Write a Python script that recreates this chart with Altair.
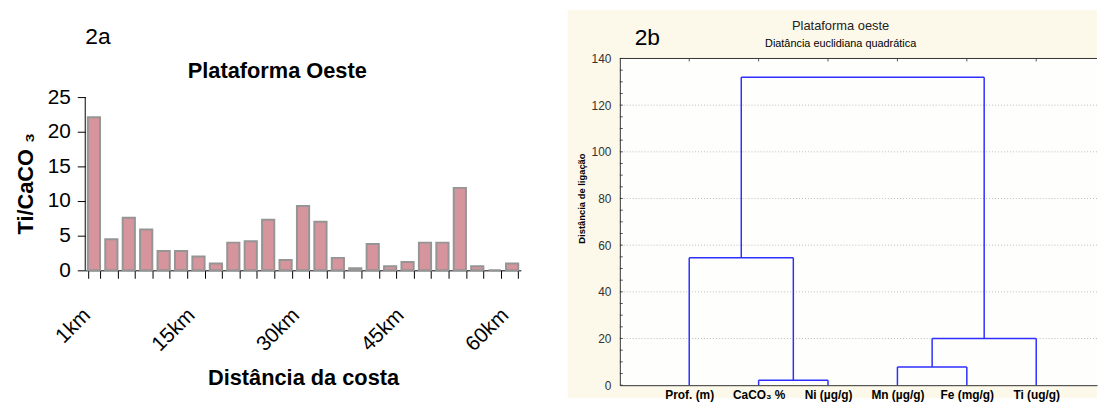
import altair as alt
import pandas as pd

# ---------------- data: panel 2a ----------------
stations = list(range(1, 26))
ti_caco3 = [22.1, 4.5, 7.6, 5.9, 2.8, 2.8, 2.0, 1.0, 4.0, 4.2, 7.3, 1.5, 9.3,
            7.0, 1.8, 0.3, 3.8, 0.6, 1.2, 4.0, 4.0, 11.9, 0.6, 0.0, 1.0]
station_labels = {1: "1km", 7: "15km", 13: "30km", 19: "45km", 25: "60km"}
y_ticks_a = [0, 5, 10, 15, 20, 25]

# ---------------- data: panel 2b (dendrogram) ----------------
leaves = ["Prof. (m)", "CaCO\u2083 %", "Ni (\u00b5g/g)", "Mn (\u00b5g/g)", "Fe (mg/g)", "Ti (ug/g)"]
# merges: (node_a, node_b, linkage distance); leaves are 0..5, new nodes 6..
merge_a = [1, 3, 7, 0, 9]
merge_b = [2, 4, 5, 6, 8]
merge_h = [2.1, 7.8, 20.0, 54.6, 132.0]
y_ticks_b = [0, 20, 40, 60, 80, 100, 120, 140]
y_minor_b = list(range(0, 141, 5))

FONT = "Liberation Sans"
one = pd.DataFrame({"v": [0]})
YT_A = "Ti/CaCO \u2083"
YT_B = "Distância de ligação"

# ---------------- panel 2a ----------------
bars_df = pd.DataFrame({"station": stations, "ratio": ti_caco3})
expr = "''"
for k in sorted(station_labels, reverse=True):
    expr = f"datum.value == {k} ? '{station_labels[k]}' : " + expr

WA = 440
HA = 214           # plot area from the common top line down to the bar baseline
YMAX_A = 25 * HA / 175.0

bg_a = alt.Chart(one).mark_rect(fill="white").encode(
    x=alt.value(-78), x2=alt.value(WA + 20), y=alt.value(0), y2=alt.value(1)
)
bars = alt.Chart(bars_df).mark_bar(fill="#D6959C", stroke="#959595", strokeWidth=2).encode(
    x=alt.X("station:O", title="Distância da costa",
            scale=alt.Scale(paddingInner=0.3, paddingOuter=0.15),
            axis=alt.Axis(labelAngle=-45, labelExpr=expr, labelOverlap=False,
                          tickBand="extent", tickSize=8, tickColor="black",
                          domainColor="black", labelPadding=26, labelOffset=-15,
                          labelFontSize=21, labelFont=FONT, labelColor="black",
                          titleFontSize=22, titleFont=FONT, titleFontWeight="bold",
                          titleColor="black", titlePadding=13)),
    y=alt.Y("ratio:Q", title=YT_A,
            scale=alt.Scale(domain=[0, YMAX_A], nice=False),
            axis=alt.Axis(values=y_ticks_a, grid=False, domain=False, tickSize=8,
                          tickColor="black", labelPadding=7, labelFontSize=21,
                          labelFont=FONT, labelColor="black", titleFontSize=22,
                          titleFont=FONT, titleFontWeight="bold", titleColor="black",
                          titlePadding=10, titleY=126)),
)
y_line_a = alt.Chart(one).mark_rule(color="black", strokeWidth=1).encode(
    x=alt.value(0), y=alt.datum(y_ticks_a[0]), y2=alt.datum(y_ticks_a[-1])
)
title_a = alt.Chart(one).mark_text(text="Plataforma Oeste", align="center",
                                   baseline="alphabetic", fontSize=22, fontWeight="bold",
                                   font=FONT, color="black").encode(
    x=alt.value(194), y=alt.value(20)
)
lab_a = alt.Chart(one).mark_text(text="2a", align="left", baseline="alphabetic",
                                 fontSize=23, font=FONT, color="black").encode(
    x=alt.value(0), y=alt.value(-15)
)
left = alt.layer(bg_a, bars, y_line_a, title_a, lab_a).properties(width=WA, height=HA)

# ---------------- panel 2b ----------------
xpos = {i: float(i + 1) for i in range(len(leaves))}
hgt = {i: 0.0 for i in range(len(leaves))}
segs = []
node = len(leaves)
for a, b, h in zip(merge_a, merge_b, merge_h):
    segs.append({"x": xpos[a], "x2": xpos[a], "y": hgt[a], "y2": h})
    segs.append({"x": xpos[b], "x2": xpos[b], "y": hgt[b], "y2": h})
    segs.append({"x": xpos[a], "x2": xpos[b], "y": h, "y2": h})
    xpos[node] = (xpos[a] + xpos[b]) / 2
    hgt[node] = h
    node += 1
seg_df = pd.DataFrame(segs)
leaf_df = pd.DataFrame({"x": [xpos[i] for i in range(len(leaves))]})

leaf_expr = "[" + ", ".join("'" + s + "'" for s in leaves) + "][datum.value - 1]"

WB, HB = 482, 330
XMAX = WB / 70.1

cream = alt.Chart(one).mark_rect(fill="#FCF9EA").encode(
    x=alt.value(-52.7), x2=alt.value(WB), y=alt.value(-49), y2=alt.value(HB + 13)
)
white = alt.Chart(one).mark_rect(fill="#FEFEFD").encode(
    x=alt.value(0), x2=alt.value(WB), y=alt.value(0), y2=alt.value(HB)
)
grid_b = alt.Chart(pd.DataFrame({"y": y_ticks_b[1:-1]})).mark_rule(
    color="#BDBDBD", strokeDash=[1, 2], strokeWidth=1).encode(
    y=alt.Y("y:Q", title=YT_B)
)
minor_b = alt.Chart(pd.DataFrame({"y": y_minor_b})).mark_rule(
    color="#555555", strokeWidth=1).encode(
    y=alt.Y("y:Q", title=YT_B), x=alt.value(0), x2=alt.value(3)
)
top_ticks = alt.Chart(leaf_df).mark_rule(color="#555555", strokeWidth=1).encode(
    x=alt.X("x:Q", title=None), y=alt.value(0), y2=alt.value(3)
)
lines = alt.Chart(seg_df).mark_rule(color="#2E2EFF", strokeWidth=1.5).encode(
    x=alt.X("x:Q", scale=alt.Scale(domain=[0, XMAX], nice=False, zero=False),
            axis=alt.Axis(values=list(range(1, len(leaves) + 1)), labelExpr=leaf_expr,
                          ticks=False, grid=False, domainColor="#333333", labelPadding=4,
                          labelFontSize=12, labelFontWeight="bold", labelFont=FONT,
                          labelColor="black", title=None, zindex=1)),
    x2="x2:Q",
    y=alt.Y("y:Q", title=YT_B, scale=alt.Scale(domain=[0, 140], nice=False),
            axis=alt.Axis(values=y_ticks_b, grid=False, ticks=False,
                          domainColor="#333333", labelPadding=9, labelFontSize=12,
                          labelFont=FONT, labelColor="#333333",
                          titleFontSize=9.5, titleFont=FONT, titleFontWeight="bold",
                          titleColor="black", titlePadding=5, titleY=141, zindex=1)),
    y2="y2:Q",
)
top_line = alt.Chart(one).mark_rule(color="#333333").encode(
    y=alt.datum(y_ticks_b[-1])
)
title_b = alt.Chart(one).mark_text(text="Plataforma oeste", align="center",
                                   baseline="alphabetic", fontSize=13, font=FONT,
                                   color="#222222").encode(
    x=alt.value(223), y=alt.value(-29)
)
subtitle_b = alt.Chart(one).mark_text(text="Diatância euclidiana quadrática", align="center",
                                      baseline="alphabetic", fontSize=11, font=FONT,
                                      color="black").encode(
    x=alt.value(223), y=alt.value(-12)
)
lab_b = alt.Chart(one).mark_text(text="2b", align="left", baseline="alphabetic",
                                 fontSize=23, font=FONT, color="black").encode(
    x=alt.value(15), y=alt.value(-14)
)
right = alt.layer(cream, white, grid_b, minor_b, top_ticks, lines, top_line,
                  title_b, subtitle_b, lab_b).properties(width=WB, height=HB)

chart = alt.hconcat(left, right, spacing=27).properties(padding=0).configure_view(
    strokeWidth=0
)

chart.save("out.html", embed_options={"renderer": "svg", "actions": False})
